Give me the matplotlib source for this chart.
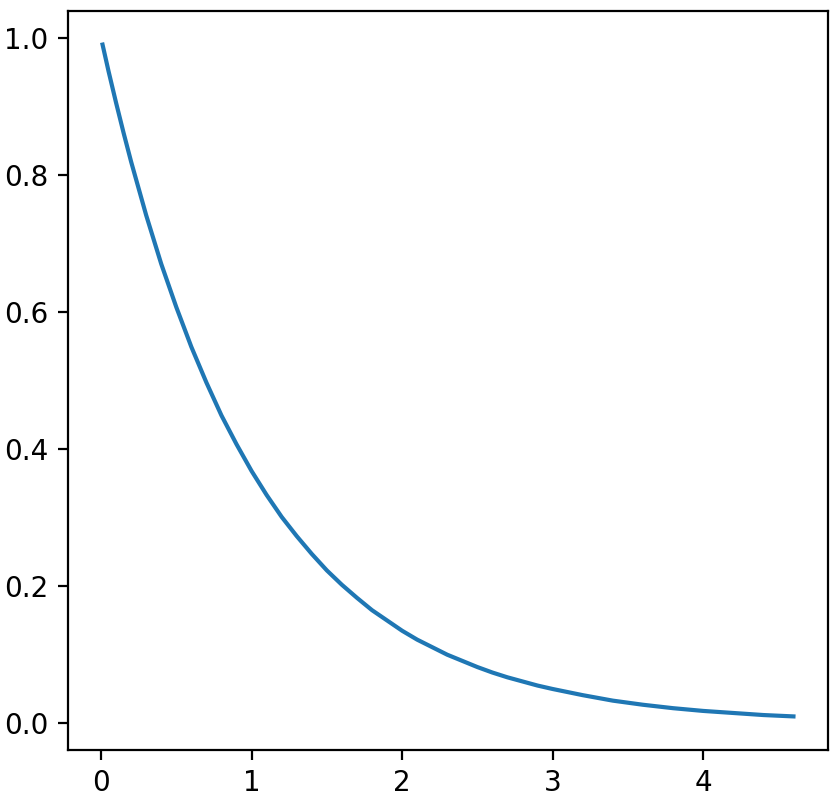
import matplotlib
matplotlib.use("Agg")
import matplotlib.pyplot as plt

# values
x_vals = [0.01, 0.05, 0.1, 0.15, 0.2, 0.3, 0.4, 0.5, 0.6, 0.7, 0.8, 0.9, 1.0,
          1.1, 1.2, 1.3, 1.4, 1.5, 1.6, 1.7, 1.8, 1.9, 2.0,
          2.1, 2.2, 2.3, 2.4, 2.5, 2.6, 2.7, 2.8, 2.9, 3.0,
          3.2, 3.4, 3.6, 3.8, 4.0, 4.2, 4.4, 4.6]
y_vals = [0.990, 0.951, 0.905, 0.861, 0.819, 0.741, 0.670, 0.607, 0.549, 0.497, 0.449, 0.407, 0.368,
          0.333, 0.301, 0.273, 0.247, 0.223, 0.202, 0.183, 0.165, 0.150, 0.135,
          0.122, 0.111, 0.100, 0.091, 0.082, 0.074, 0.067, 0.061, 0.055, 0.050,
          0.041, 0.033, 0.027, 0.022, 0.018, 0.015, 0.012, 0.010]

fig = plt.figure(figsize=(839/200, 798/200), dpi=200)
ax = fig.add_axes([68/839, 48/798, 760/839, 739/798])
ax.plot(x_vals, y_vals, color="#1f77b4", linewidth=1.5)
ax.set_xticks([0, 1, 2, 3, 4])
ax.set_yticks([0.0, 0.2, 0.4, 0.6, 0.8, 1.0])

fig.savefig("out.png", dpi=200)
